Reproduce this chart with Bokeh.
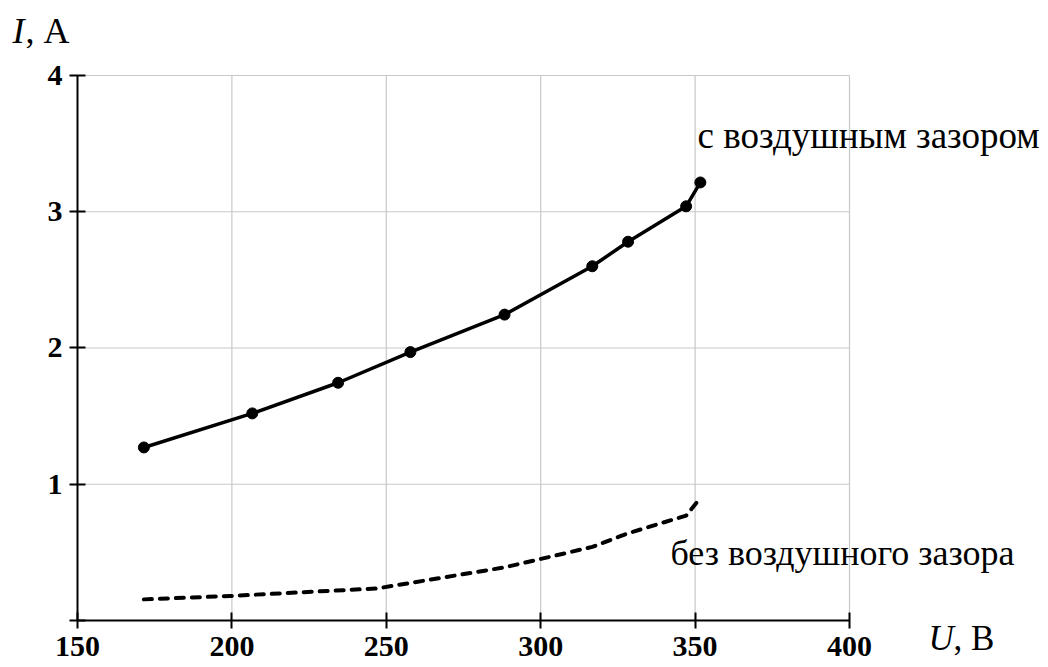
from bokeh.plotting import figure
from bokeh.models import Range1d, FixedTicker, Label, LinearAxis
from bokeh.embed import file_html
from bokeh.resources import INLINE

# Current I (A) versus voltage U (V)
u_gap = [171.5, 206.6, 234.4, 257.8, 288.3, 316.7, 328.3, 347.1, 351.7]
i_gap = [1.27, 1.52, 1.745, 1.97, 2.245, 2.60, 2.78, 3.04, 3.215]

u_nogap = [171.5, 199.5, 212.0, 247.0, 288.3, 316.7, 328.3, 347.1, 351.7]
i_nogap = [0.155, 0.18, 0.195, 0.235, 0.39, 0.54, 0.64, 0.77, 0.90]

x_ticks = [150, 200, 250, 300, 350, 400]
y_ticks = [0, 1, 2, 3, 4]
y_tick_labels = {0: "", 1: "1", 2: "2", 3: "3", 4: "4"}

label_gap = "с воздушным зазором"
label_nogap = "без воздушного зазора"

FONT = "Liberation Serif"

# the frame fills the whole canvas; the axes sit at fixed data positions
p = figure(
    width=1048, height=667,
    x_range=Range1d(125.07, 464.44), y_range=Range1d(-0.345, 4.5505),
    x_axis_type=None, y_axis_type=None,
    output_backend="svg", toolbar_location=None,
    min_border=0,
)
p.outline_line_color = None
p.background_fill_color = "white"
p.border_fill_color = "white"

x0, x1 = x_ticks[0], x_ticks[-1]
y0, y1 = y_ticks[0], y_ticks[-1]

# grid lines drawn only inside the 150..400 x 0..4 box
p.segment(x0=x_ticks[1:], y0=[y0] * (len(x_ticks) - 1),
          x1=x_ticks[1:], y1=[y1] * (len(x_ticks) - 1),
          line_color="#c8c8c8", line_width=1.2)
p.segment(x0=[x0] * (len(y_ticks) - 1), y0=y_ticks[1:],
          x1=[x1] * (len(y_ticks) - 1), y1=y_ticks[1:],
          line_color="#c8c8c8", line_width=1.2)

xaxis = LinearAxis(ticker=FixedTicker(ticks=x_ticks), bounds=(x0, x1),
                   fixed_location=y0, major_label_standoff=9)
yaxis = LinearAxis(ticker=FixedTicker(ticks=y_ticks), bounds=(y0, y1),
                   fixed_location=x0, major_label_standoff=7,
                   major_label_overrides=y_tick_labels)
for ax in (xaxis, yaxis):
    ax.axis_line_color = "black"
    ax.axis_line_width = 2
    ax.major_tick_line_color = "black"
    ax.major_tick_line_width = 2
    ax.major_tick_in = 8
    ax.major_tick_out = 8
    ax.minor_tick_line_color = None
    ax.major_label_text_font = FONT
    ax.major_label_text_font_style = "bold"
    ax.major_label_text_font_size = "30px"
    ax.major_label_text_color = "black"
p.add_layout(xaxis, "below")
p.add_layout(yaxis, "left")

# curves
p.line(u_nogap, i_nogap, line_color="black", line_width=4,
       line_dash="8 8", line_cap="round", line_join="round")
p.line(u_gap, i_gap, line_color="black", line_width=3.5, line_join="round")
p.scatter(u_gap, i_gap, size=11, fill_color="black", line_color="black")

# curve captions
p.add_layout(Label(x=350.8, y=3.56, text=label_gap, text_font=FONT,
                   text_font_size="37px", text_color="black",
                   text_baseline="alphabetic"))
p.add_layout(Label(x=342.0, y=0.494, text=label_nogap, text_font=FONT,
                   text_font_size="36px", text_color="black",
                   text_baseline="alphabetic"))

# axis titles
p.add_layout(Label(x=128.95, y=4.325, text="I", text_font=FONT,
                   text_font_style="italic", text_font_size="36px",
                   text_color="black", text_baseline="alphabetic"))
p.add_layout(Label(x=133.2, y=4.325, text=", А", text_font=FONT,
                   text_font_size="36px", text_color="black",
                   text_baseline="alphabetic"))
p.add_layout(Label(x=425.6, y=-0.13, text="U", text_font=FONT,
                   text_font_style="italic", text_font_size="35px",
                   text_color="black", text_baseline="alphabetic"))
p.add_layout(Label(x=433.7, y=-0.13, text=", В", text_font=FONT,
                   text_font_size="35px", text_color="black",
                   text_baseline="alphabetic"))

open("out.html", "w").write(file_html(p, INLINE))
